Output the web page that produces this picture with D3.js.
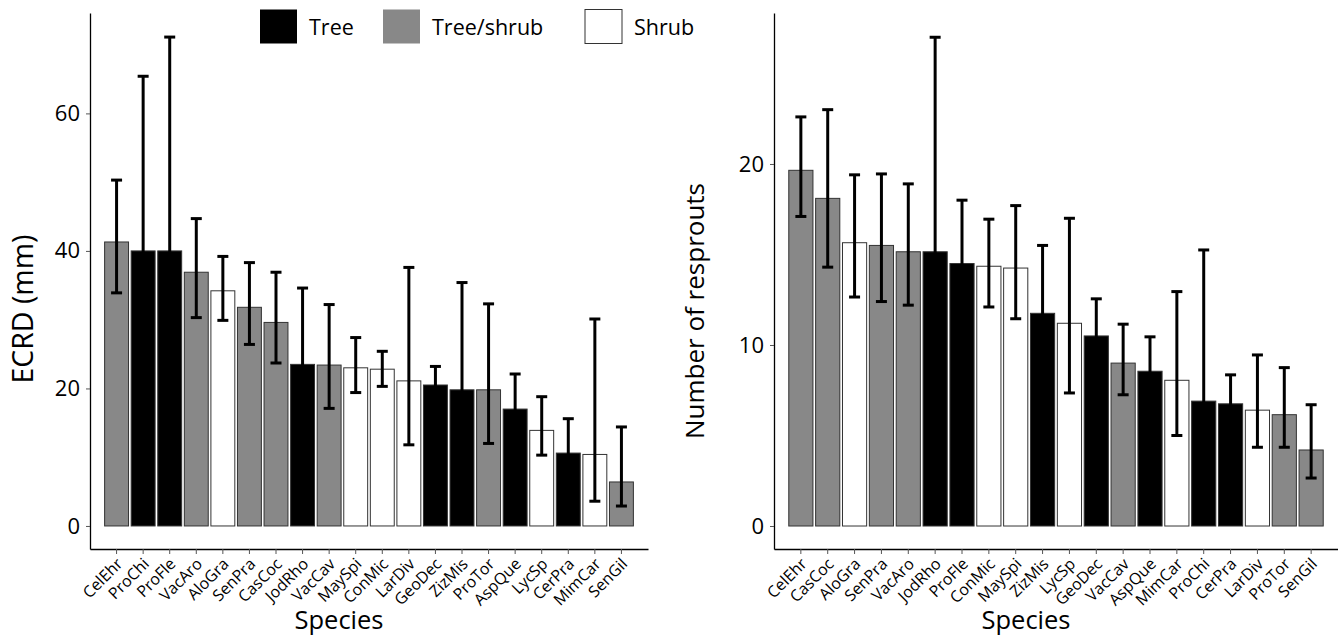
<!DOCTYPE html>
<html><head><meta charset="utf-8">
<script src="https://cdn.jsdelivr.net/npm/d3@7"></script>
<style>body{margin:0;background:#fff}svg{display:block}text{font-family:"Open Sans",sans-serif;fill:#000}</style>
</head><body><svg id="c" width="1338" height="638"></svg>
<script>
// ---- Data: left panel (ECRD, mm) ----
const ecrdSpecies = ["CelEhr","ProChi","ProFle","VacAro","AloGra","SenPra","CasCoc","JodRho","VacCav","MaySpi","ConMic","LarDiv","GeoDec","ZizMis","ProTor","AspQue","LycSp","CerPra","MimCar","SenGil"];
const ecrdType = ["Tree/shrub","Tree","Tree","Tree/shrub","Shrub","Tree/shrub","Tree/shrub","Tree","Tree/shrub","Shrub","Shrub","Shrub","Tree","Tree","Tree/shrub","Tree","Shrub","Tree","Shrub","Tree/shrub"];
const ecrdMean = [41.3,40.0,40.0,36.9,34.2,31.8,29.6,23.5,23.4,23.0,22.8,21.1,20.5,19.8,19.8,17.0,13.9,10.6,10.4,6.4];
const ecrdHigh = [50.3,65.4,71.1,44.7,39.2,38.3,36.9,34.6,32.2,27.4,25.4,37.6,23.2,35.4,32.3,22.1,18.8,15.6,30.1,14.4];
const ecrdLow  = [33.9,25.0,24.0,30.3,29.9,26.4,23.7,15.5,17.1,19.4,20.3,11.8,17.8,10.0,12.0,12.0,10.3,6.5,3.6,2.9];
const ecrdTicks = [0,20,40,60];

// ---- Data: right panel (Number of resprouts) ----
const resSpecies = ["CelEhr","CasCoc","AloGra","SenPra","VacAro","JodRho","ProFle","ConMic","MaySpi","ZizMis","LycSp","GeoDec","VacCav","AspQue","MimCar","ProChi","CerPra","LarDiv","ProTor","SenGil"];
const resType = ["Tree/shrub","Tree/shrub","Shrub","Tree/shrub","Tree/shrub","Tree","Tree","Shrub","Shrub","Tree","Shrub","Tree","Tree/shrub","Tree","Shrub","Tree","Tree","Shrub","Tree/shrub","Tree/shrub"];
const resMean = [19.65,18.1,15.65,15.5,15.15,15.15,14.5,14.35,14.25,11.75,11.2,10.5,9.0,8.55,8.05,6.9,6.75,6.4,6.15,4.2];
const resHigh = [22.6,23.0,19.4,19.45,18.9,27.0,18.0,16.95,17.7,15.5,17.0,12.55,11.15,10.45,12.95,15.25,8.35,9.45,8.75,6.7];
const resLow  = [17.1,14.3,12.65,12.4,12.2,9.0,11.5,12.1,11.45,8.5,7.35,8.8,7.25,7.0,5.0,3.5,5.2,4.35,4.35,2.65];
const resTicks = [0,10,20];

const typeNames = ["Tree","Tree/shrub","Shrub"];
const typeFill = ["#000000","#888888","#ffffff"];

const svg = d3.select("#c");
const fill = d3.scaleOrdinal().domain(typeNames).range(typeFill);

function panel(o){
  const g = svg.append("g");
  const x = d3.scaleBand().domain(o.species).range([o.x0, o.x1]).paddingInner(0.1).paddingOuter(0.55);
  const y = d3.scaleLinear().domain(o.yDomain).range([o.yBottom, o.yTop]);
  const bw = x.bandwidth();
  g.selectAll("rect.bar").data(o.species).join("rect")
    .attr("x", d => x(d)).attr("width", bw)
    .attr("y", (d,i) => y(o.mean[i])).attr("height", (d,i) => y(0) - y(o.mean[i]))
    .attr("fill", (d,i) => fill(o.type[i])).attr("stroke", "#333").attr("stroke-width", 1);
  const eb = g.selectAll("g.eb").data(o.species).join("g").attr("stroke", "#000").attr("stroke-width", 3);
  eb.append("line").attr("x1", d => x(d)+bw/2).attr("x2", d => x(d)+bw/2)
    .attr("y1", (d,i) => y(o.low[i])).attr("y2", (d,i) => y(o.high[i]));
  const cap = 5.5;
  eb.append("line").attr("x1", d => x(d)+bw/2-cap).attr("x2", d => x(d)+bw/2+cap)
    .attr("y1", (d,i) => y(o.high[i])).attr("y2", (d,i) => y(o.high[i]));
  eb.append("line").attr("x1", d => x(d)+bw/2-cap).attr("x2", d => x(d)+bw/2+cap)
    .attr("y1", (d,i) => y(o.low[i])).attr("y2", (d,i) => y(o.low[i]));
  const ya = g.append("g").attr("transform", `translate(${o.x0},0)`)
    .call(d3.axisLeft(y).tickValues(o.ticks).tickSize(4).tickPadding(6).tickSizeOuter(0));
  ya.select(".domain").attr("stroke", "#000").attr("stroke-width", 1.3);
  ya.selectAll(".tick line").attr("stroke", "#555");
  ya.selectAll(".tick text").attr("font-size", 22).attr("font-family", "Open Sans");
  const xa = g.append("g").attr("transform", `translate(0,${o.yBottom})`)
    .call(d3.axisBottom(x).tickSize(5).tickSizeOuter(0));
  xa.select(".domain").attr("stroke", "#000").attr("stroke-width", 1.3);
  xa.selectAll(".tick line").attr("stroke", "#555");
  xa.selectAll(".tick text").attr("font-size", 16).attr("font-family", "Open Sans")
    .attr("text-anchor", "end").attr("dy", null).attr("y", 0)
    .attr("transform", "translate(7,16) rotate(-45)");
  g.append("text").attr("x", o.xTitleX).attr("y", 629).attr("text-anchor", "middle")
    .attr("font-size", 25.5).text("Species");
  g.append("text").attr("transform", `translate(${o.yTitleX},${o.yTitleY}) rotate(-90)`)
    .attr("text-anchor", "middle").attr("font-size", o.yTitleSize).text(o.yTitle);
}

panel({species: ecrdSpecies, type: ecrdType, mean: ecrdMean, high: ecrdHigh, low: ecrdLow, ticks: ecrdTicks,
  x0: 90, x1: 648, yDomain: [-3.35, 74.6], yBottom: 549, yTop: 13,
  xTitleX: 339, yTitleX: 33, yTitleY: 309, yTitleSize: 28.5, yTitle: "ECRD (mm)"});
panel({species: resSpecies, type: resType, mean: resMean, high: resHigh, low: resLow, ticks: resTicks,
  x0: 774, x1: 1338, yDomain: [-1.27, 28.34], yBottom: 549, yTop: 13,
  xTitleX: 1026, yTitleX: 704, yTitleY: 311, yTitleSize: 26, yTitle: "Number of resprouts"});

const lg = svg.append("g");
const lx = [260, 383, 585];
typeNames.forEach((t,i) => {
  lg.append("rect").attr("x", lx[i]).attr("y", 9.5).attr("width", 37).attr("height", 34)
    .attr("fill", typeFill[i]).attr("stroke", i===2 ? "#333" : "none").attr("stroke-width", 1);
  lg.append("text").attr("x", lx[i]+49).attr("y", 34.5).attr("font-size", 21.5).text(t);
});
</script></body></html>
